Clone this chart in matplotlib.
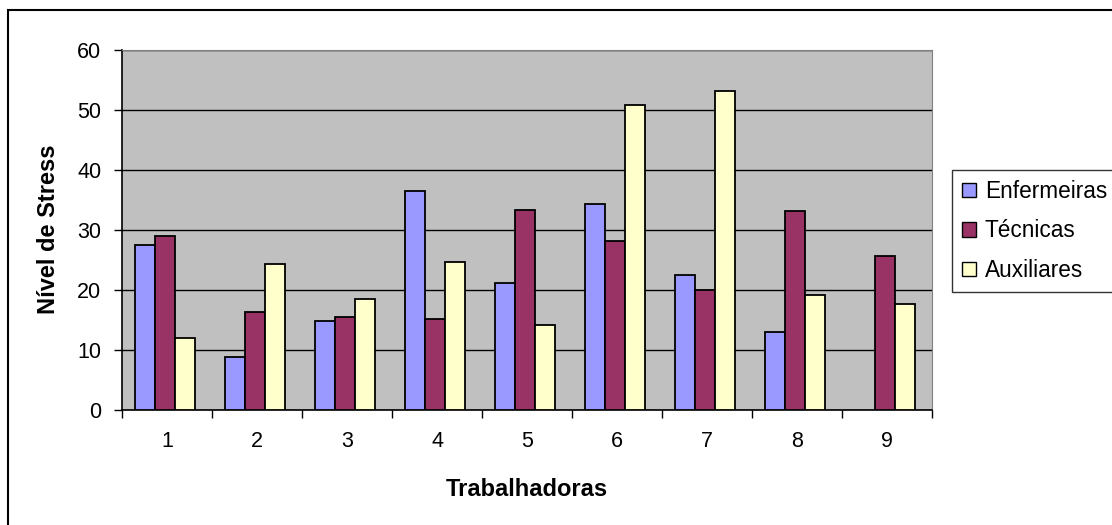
import numpy as np
import matplotlib
matplotlib.use('Agg')
import matplotlib.pyplot as plt
from matplotlib.patches import Rectangle

plt.rcParams['font.family'] = ['Liberation Sans', 'DejaVu Sans']

# values
trabalhadoras = ['1', '2', '3', '4', '5', '6', '7', '8', '9']
enfermeiras = [27.5, 8.9, 14.8, 36.4, 21.2, 34.3, 22.5, 12.9, np.nan]
tecnicas = [29.0, 16.3, 15.5, 15.1, 33.3, 28.1, 19.9, 33.1, 25.6]
auxiliares = [12.0, 24.3, 18.5, 24.7, 14.1, 50.7, 53.1, 19.1, 17.6]
seriesNames = ['Enfermeiras', 'Técnicas', 'Auxiliares']
seriesColors = ['#9999FF', '#993366', '#FFFFCC']

figure = plt.figure(figsize=(11.12, 5.25), dpi=100)
ax = figure.add_axes([122/1112, 115/525, 810/1112, 360.5/525])

# outer chart frame (extends past the right/bottom edges like in the source)
figure.patches.append(Rectangle((8/1112, -0.05), 1.2, (515/525) + 0.05,
                                transform=figure.transFigure, fill=False,
                                edgecolor='black', linewidth=1.5))

x = np.arange(len(trabalhadoras))
barWidth = 0.222
allSeries = [enfermeiras, tecnicas, auxiliares]
for i, values in enumerate(allSeries):
	ax.bar(x + (i - 1) * barWidth - 0.022, values, barWidth, color=seriesColors[i],
	       edgecolor='black', linewidth=1.3, label=seriesNames[i], zorder=3)

ax.set_facecolor('#C0C0C0')
ax.set_xlim(-0.5, len(trabalhadoras) - 0.5)
ax.set_ylim(0, 60)
ax.set_yticks(range(0, 61, 10))
ax.yaxis.grid(True, color='black', linewidth=1.0, zorder=0)

ax.set_xticks(x)
ax.set_xticklabels(trabalhadoras)
ax.set_xticks(np.arange(-0.5, len(trabalhadoras), 1.0), minor=True)
ax.tick_params(axis='x', which='major', length=0, pad=15, labelsize=15.5)
ax.tick_params(axis='x', which='minor', length=6, width=1, direction='out')
ax.tick_params(axis='y', length=6, width=1, direction='out', pad=9, labelsize=15.5)

for side in ['top', 'right']:
	ax.spines[side].set_color('#808080')
for side in ['left', 'bottom']:
	ax.spines[side].set_color('black')
	ax.spines[side].set_linewidth(1.2)

ax.set_xlabel('Trabalhadoras', fontsize=17, fontweight='bold')
ax.set_ylabel('Nível de Stress', fontsize=17, fontweight='bold')
ax.xaxis.set_label_coords(0.5, -0.19)
ax.yaxis.set_label_coords(-0.076, 0.5)

legend = ax.legend(loc='upper left', bbox_to_anchor=(952/1112, 355/525),
                   bbox_transform=figure.transFigure, fontsize=16.3, frameon=True,
                   fancybox=False, edgecolor='black', handlelength=0.6,
                   handleheight=0.6, handletextpad=0.4, borderpad=0.45,
                   labelspacing=0.72, borderaxespad=0)
legend.get_frame().set_linewidth(1.0)
for handle in legend.legend_handles:
	handle.set_linewidth(1.0)

figure.savefig('out.png', dpi=100)
